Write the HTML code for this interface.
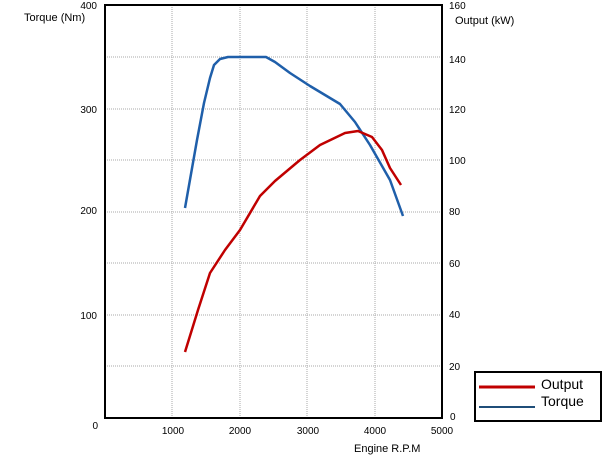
<!DOCTYPE html><html><head><style>body{margin:0;background:#fff}svg{display:block;font-family:"Liberation Sans",sans-serif}</style></head><body>
<svg width="608" height="467" viewBox="0 0 608 467">
<g stroke="#aaa" stroke-width="1" stroke-dasharray="1,1">
<line x1="105" y1="57" x2="442" y2="57"/><line x1="105" y1="109" x2="442" y2="109"/><line x1="105" y1="160" x2="442" y2="160"/><line x1="105" y1="212" x2="442" y2="212"/><line x1="105" y1="263" x2="442" y2="263"/><line x1="105" y1="315" x2="442" y2="315"/><line x1="105" y1="366" x2="442" y2="366"/>
<line x1="172" y1="5" x2="172" y2="418"/><line x1="240" y1="5" x2="240" y2="418"/><line x1="307" y1="5" x2="307" y2="418"/><line x1="375" y1="5" x2="375" y2="418"/>
</g>
<rect x="105" y="5" width="337" height="413" fill="none" stroke="#000" stroke-width="2"/>
<polyline fill="none" stroke="#1f5faa" stroke-width="2.5" stroke-linejoin="round" points="185,208 197,140 204,103 210,78 214,65 220,59 228,57 266,57 275,62 290,73 310,86 340,104 355,122 370,145 390,180 403,216"/>
<polyline fill="none" stroke="#c00000" stroke-width="2.5" stroke-linejoin="round" points="185,352 198,310 210,273 225,250 240,230 260,196 275,181 300,160 320,145 345,133 358,131 372,137 382,150 390,168 401,185"/>
<g font-size="10" fill="#000">
<text x="24" y="21" font-size="11">Torque (Nm)</text>
<text x="455" y="24" font-size="11">Output (kW)</text>
<g text-anchor="end"><text x="97" y="9">400</text><text x="97" y="113">300</text><text x="97" y="214">200</text><text x="97" y="319">100</text><text x="98" y="429">0</text></g>
<g text-anchor="start"><text x="449" y="9">160</text><text x="449" y="63">140</text><text x="449" y="113">120</text><text x="449" y="164">100</text><text x="449" y="215">80</text><text x="449" y="267">60</text><text x="449" y="318">40</text><text x="449" y="370">20</text><text x="450" y="420">0</text></g>
<g text-anchor="middle"><text x="173" y="434">1000</text><text x="240" y="434">2000</text><text x="308" y="434">3000</text><text x="375" y="434">4000</text><text x="442" y="434">5000</text></g>
<text x="354" y="452" font-size="11">Engine R.P.M</text>
</g>
<rect x="475" y="372" width="126" height="49" fill="#fff" stroke="#000" stroke-width="2"/>
<line x1="479" y1="387" x2="535" y2="387" stroke="#c00000" stroke-width="3"/>
<line x1="479" y1="407" x2="535" y2="407" stroke="#1f4e79" stroke-width="2"/>
<text x="541" y="389" font-size="14">Output</text>
<text x="541" y="406" font-size="14">Torque</text>
</svg></body></html>
